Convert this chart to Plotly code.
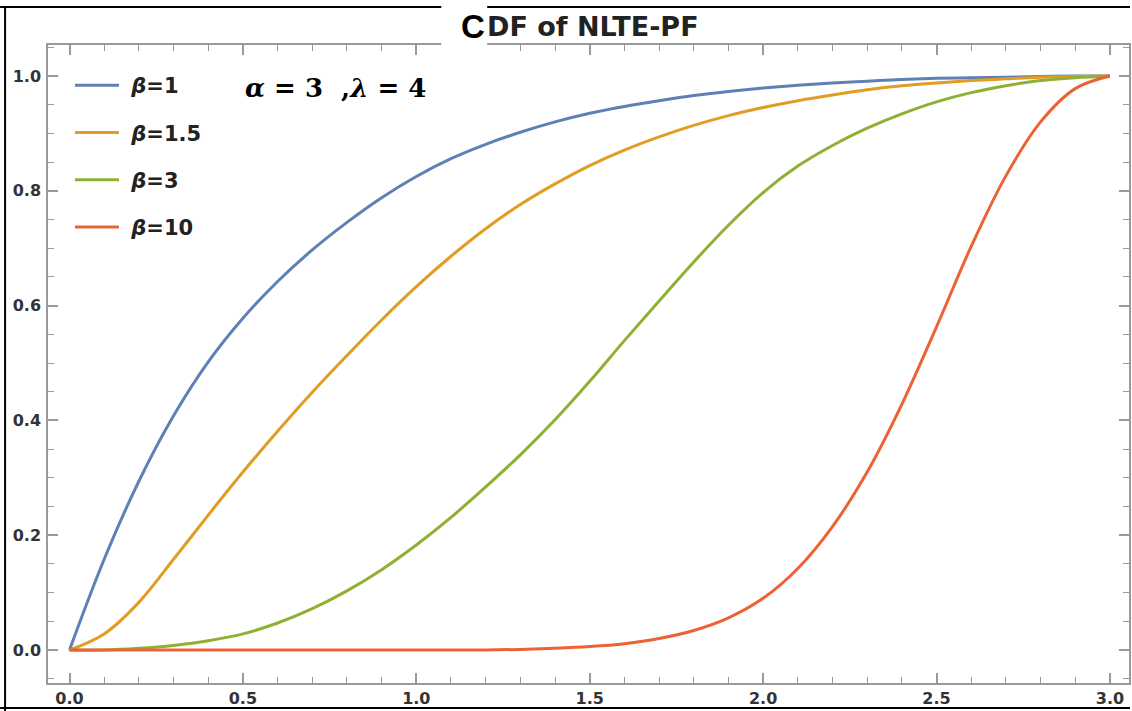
import plotly.graph_objects as go

# ---------------- data ----------------
x_vals = [0.0, 0.1, 0.2, 0.3, 0.4, 0.5, 0.6, 0.7, 0.8, 0.9, 1.0,
          1.1, 1.2, 1.3, 1.4, 1.5, 1.6, 1.7, 1.8, 1.9, 2.0,
          2.1, 2.2, 2.3, 2.4, 2.5, 2.6, 2.7, 2.8, 2.9, 3.0]

cdf_beta_1 = [0.0, 0.158, 0.294, 0.408, 0.502, 0.578, 0.642, 0.697, 0.745, 0.788, 0.825,
              0.856, 0.881, 0.902, 0.92, 0.935, 0.947, 0.957, 0.966, 0.973, 0.979,
              0.984, 0.988, 0.991, 0.994, 0.996, 0.997, 0.998, 0.999, 1.0, 1.0]

cdf_beta_1_5 = [0.0, 0.028, 0.083, 0.158, 0.235, 0.31, 0.381, 0.449, 0.513, 0.575, 0.633,
                0.686, 0.734, 0.776, 0.812, 0.844, 0.871, 0.894, 0.914, 0.931, 0.945,
                0.957, 0.967, 0.976, 0.983, 0.988, 0.992, 0.995, 0.998, 0.999, 1.0]

cdf_beta_3 = [0.0, 0.0, 0.003, 0.008, 0.016, 0.028, 0.047, 0.072, 0.103, 0.14, 0.183,
              0.231, 0.284, 0.34, 0.401, 0.468, 0.539, 0.608, 0.676, 0.74, 0.797,
              0.843, 0.879, 0.909, 0.934, 0.955, 0.971, 0.983, 0.992, 0.997, 1.0]

cdf_beta_10 = [0.0, 0.0, 0.0, 0.0, 0.0, 0.0, 0.0, 0.0, 0.0, 0.0, 0.0,
               0.0, 0.0, 0.001, 0.003, 0.006, 0.011, 0.02, 0.034, 0.056, 0.09,
               0.142, 0.215, 0.31, 0.428, 0.563, 0.703, 0.826, 0.92, 0.978, 1.0]

series_names = ["<i>β</i>=1", "<i>β</i>=1.5", "<i>β</i>=3", "<i>β</i>=10"]
series_values = [cdf_beta_1, cdf_beta_1_5, cdf_beta_3, cdf_beta_10]
series_colors = ["#5E81B5", "#E19C24", "#8FB032", "#EB6235"]

x_tick_vals = [0.0, 0.5, 1.0, 1.5, 2.0, 2.5, 3.0]
x_tick_text = ["0.0", "0.5", "1.0", "1.5", "2.0", "2.5", "3.0"]
y_tick_vals = [0.0, 0.2, 0.4, 0.6, 0.8, 1.0]
y_tick_text = ["0.0", "0.2", "0.4", "0.6", "0.8", "1.0"]

title_first = "C"
title_rest = "DF of NLTE-PF"
param_text = "<i>α</i> = 3\u00a0\u00a0,<i>λ</i> = 4"

# ---------------- figure ----------------
W, H = 1132, 711
ML, MR, MT, MB = 48, 1, 45, 28
PW, PH = W - ML - MR, H - MT - MB


def px_x(p):
    return (p - ML) / PW


def px_y(p):
    return (H - MB - p) / PH


fig = go.Figure()
for i, (name, vals, col) in enumerate(zip(series_names, series_values, series_colors)):
    fig.add_trace(go.Scatter(
        x=x_vals, y=vals, mode="lines", name="\u00a0" + name,
        legendgroup=f"g{i}",
        line=dict(color=col, width=3, shape="spline", smoothing=1.0),
    ))

frame_col = "#9a9a9a"
label_font = dict(family="DejaVu Sans, sans-serif", size=16, color="#333333", weight="bold")

fig.update_xaxes(
    range=[-0.062, 3.055], tickmode="array", tickvals=x_tick_vals, ticktext=x_tick_text,
    showgrid=False, zeroline=False, showline=True, linecolor=frame_col, linewidth=1.5,
    mirror="ticks", ticks="inside", ticklen=10, tickwidth=1.5, tickcolor=frame_col,
    tickfont=label_font,
    minor=dict(dtick=0.1, tick0=0, ticks="inside", ticklen=6, tickwidth=1.2,
               tickcolor=frame_col, showgrid=False),
)
fig.update_yaxes(
    range=[-0.0575, 1.054], tickmode="array", tickvals=y_tick_vals, ticktext=y_tick_text,
    showgrid=False, zeroline=False, showline=True, linecolor=frame_col, linewidth=1.5,
    mirror="ticks", ticks="inside", ticklen=10, tickwidth=1.5, tickcolor=frame_col,
    tickfont=label_font, ticklabelstandoff=2,
    minor=dict(dtick=0.05, tick0=0, ticks="inside", ticklen=6, tickwidth=1.2,
               tickcolor=frame_col, showgrid=False),
)

shapes = [
    # white patch where the title breaks the frame
    dict(type="rect", xref="paper", yref="paper", layer="above",
         x0=px_x(442), x1=px_x(488), y0=px_y(54), y1=px_y(-2),
         fillcolor="white", line=dict(width=0)),
    # outer black border
    dict(type="line", xref="paper", yref="paper", layer="above",
         x0=px_x(0), x1=px_x(442), y0=px_y(7), y1=px_y(7), line=dict(color="black", width=2)),
    dict(type="line", xref="paper", yref="paper", layer="above",
         x0=px_x(488), x1=px_x(1132), y0=px_y(7), y1=px_y(7), line=dict(color="black", width=2)),
    dict(type="line", xref="paper", yref="paper", layer="above",
         x0=px_x(5), x1=px_x(5), y0=px_y(7), y1=px_y(711), line=dict(color="black", width=2)),
    dict(type="line", xref="paper", yref="paper", layer="above",
         x0=px_x(0), x1=px_x(1132), y0=px_y(708), y1=px_y(708), line=dict(color="black", width=2)),
]

annotations = [
    dict(text=f"<b>{title_first}</b>", xref="paper", yref="paper", x=px_x(474), y=px_y(26),
         xanchor="center", yanchor="middle", showarrow=False,
         font=dict(family="Liberation Sans, Arial, sans-serif", size=33, color="black")),
    dict(text=f"<b>{title_rest}</b>", xref="paper", yref="paper", x=px_x(486), y=px_y(27),
         xanchor="left", yanchor="middle", showarrow=False,
         font=dict(family="DejaVu Sans, sans-serif", size=27, color="#222222")),
    dict(text=f"<b>{param_text}</b>", xref="paper", yref="paper", x=px_x(243), y=px_y(88),
         xanchor="left", yanchor="middle", showarrow=False,
         font=dict(family="DejaVu Serif, serif", size=26, color="black")),
]

fig.update_layout(
    width=W, height=H,
    margin=dict(l=ML, r=MR, t=MT, b=MB, pad=0),
    paper_bgcolor="white", plot_bgcolor="white",
    showlegend=True,
    legend=dict(x=px_x(70), y=px_y(65), xanchor="left", yanchor="top",
                bgcolor="rgba(0,0,0,0)", borderwidth=0,
                font=dict(family="DejaVu Sans, sans-serif", size=21,
                          color="#222222", weight="bold"),
                tracegroupgap=17, itemwidth=44),
    shapes=shapes,
    annotations=annotations,
)

fig.write_html("out.html")
